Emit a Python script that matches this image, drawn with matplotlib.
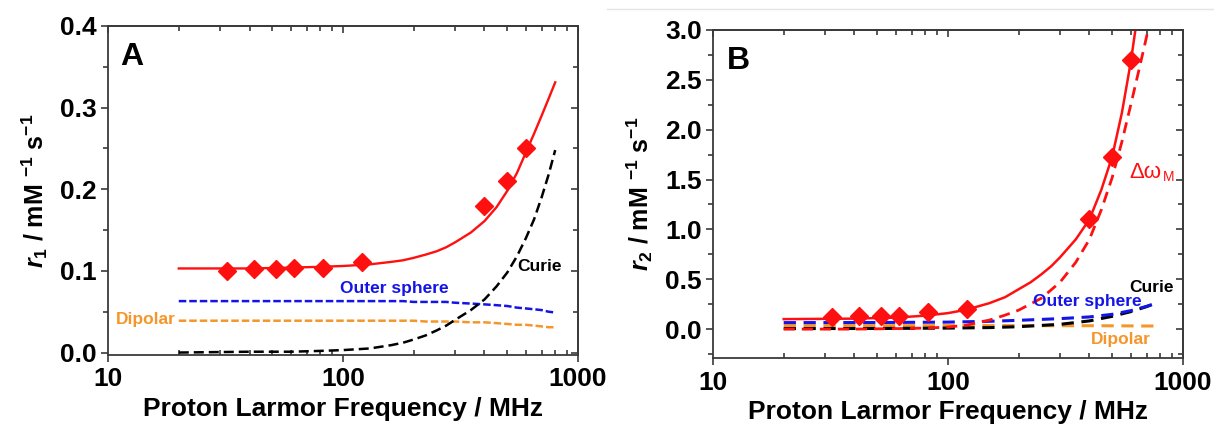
import numpy as np
import matplotlib
matplotlib.use('Agg')
import matplotlib.pyplot as plt
from matplotlib import ticker
from matplotlib.lines import Line2D

plt.rcParams['font.family'] = ['Liberation Sans', 'DejaVu Sans']
plt.rcParams['font.weight'] = 'bold'
plt.rcParams['axes.labelweight'] = 'bold'
plt.rcParams['mathtext.fontset'] = 'custom'
plt.rcParams['mathtext.rm'] = 'Liberation Sans:bold'
plt.rcParams['mathtext.it'] = 'Liberation Sans:italic:bold'
plt.rcParams['mathtext.bf'] = 'Liberation Sans:bold'

# measured relaxivities (MHz)
freq_exp = [32, 42, 52, 62, 82, 120, 400, 500, 600]
r1_exp = [0.100, 0.102, 0.102, 0.103, 0.104, 0.111, 0.179, 0.210, 0.250]
r2_exp = [0.12, 0.13, 0.13, 0.13, 0.17, 0.20, 1.10, 1.73, 2.70]

# r1 fit and its contributions
freq_r1 = [20, 40, 60, 80, 100, 130, 160, 180, 200, 225, 250, 275, 300, 350, 400,
           450, 500, 550, 600, 650, 700, 750, 800]
r1_fit = [0.103, 0.103, 0.104, 0.105, 0.106, 0.108, 0.111, 0.113, 0.116, 0.120,
          0.124, 0.129, 0.135, 0.147, 0.161, 0.178, 0.198, 0.220, 0.245, 0.268,
          0.290, 0.311, 0.331]
r1_curie = [0.000, 0.001, 0.001, 0.002, 0.003, 0.005, 0.009, 0.012, 0.016, 0.021,
            0.027, 0.033, 0.040, 0.052, 0.065, 0.081, 0.098, 0.118, 0.140, 0.163,
            0.190, 0.218, 0.248]
r1_outer = [0.063, 0.063, 0.063, 0.063, 0.063, 0.063, 0.063, 0.063, 0.062, 0.062,
            0.062, 0.062, 0.061, 0.060, 0.059, 0.058, 0.057, 0.055, 0.054, 0.053,
            0.052, 0.050, 0.049]
r1_dipolar = [0.039, 0.039, 0.039, 0.039, 0.039, 0.039, 0.039, 0.039, 0.039, 0.038,
              0.038, 0.038, 0.038, 0.037, 0.037, 0.036, 0.035, 0.034, 0.034, 0.033,
              0.032, 0.031, 0.031]

# r2 fit and its contributions
freq_r2_fit = [20, 40, 60, 80, 100, 120, 150, 175, 200, 225, 250, 275, 300, 350,
               400, 450, 500, 550, 600, 650]
r2_fit = [0.10, 0.105, 0.115, 0.135, 0.16, 0.195, 0.26, 0.32, 0.40, 0.47, 0.55,
          0.63, 0.72, 0.90, 1.10, 1.40, 1.73, 2.17, 2.68, 3.25]
freq_r2_shift = [20, 40, 60, 80, 100, 120, 150, 175, 200, 250, 300, 350, 400, 450,
                 500, 550, 600, 650, 700, 730]
r2_shift = [0.0, 0.0, 0.005, 0.01, 0.02, 0.04, 0.09, 0.14, 0.19, 0.31, 0.47, 0.67,
            0.90, 1.20, 1.52, 1.88, 2.25, 2.60, 2.93, 3.15]
freq_r2 = [20, 50, 100, 150, 200, 300, 400, 500, 600, 700, 760]
r2_outer = [0.065, 0.066, 0.070, 0.078, 0.088, 0.105, 0.122, 0.148, 0.185, 0.228, 0.255]
r2_curie = [0.005, 0.006, 0.010, 0.015, 0.024, 0.048, 0.082, 0.128, 0.175, 0.225, 0.258]
r2_dipolar = [0.035, 0.035, 0.035, 0.035, 0.035, 0.034, 0.034, 0.033, 0.032, 0.031, 0.031]

RED = '#ff1010'
BLUE = '#1414e6'
ORANGE = '#f5962a'
SPINE = '#3a3a3a'


def style_axis(ax, ylim, ymajor, yminor, ylabel):
    ax.set_xscale('log')
    ax.set_xlim(10, 1000)
    ax.set_ylim(*ylim)
    ax.yaxis.set_major_locator(ticker.MultipleLocator(ymajor))
    ax.yaxis.set_minor_locator(ticker.MultipleLocator(yminor))
    ax.yaxis.set_major_formatter(ticker.FormatStrFormatter('%.1f'))
    ax.xaxis.set_major_formatter(ticker.FuncFormatter(lambda v, p: '%g' % v))
    ax.xaxis.set_minor_formatter(ticker.NullFormatter())
    for s in ax.spines.values():
        s.set_color(SPINE)
        s.set_linewidth(1.3)
    ax.tick_params(which='major', direction='out', length=5, width=1.2,
                   color=SPINE, labelsize=19, pad=3)
    ax.tick_params(axis='x', which='minor', direction='in', length=3.5, width=1.2, color=SPINE)
    ax.tick_params(axis='y', which='minor', direction='out', length=3.5, width=1.2, color=SPINE)
    ax.tick_params(axis='x', which='major', pad=4)
    # mirrored ticks on top and right, pointing in
    top = ax.secondary_xaxis('top')
    top.tick_params(which='major', direction='in', length=5, width=1.2, color=SPINE, labeltop=False)
    top.tick_params(which='minor', direction='in', length=3.5, width=1.2, color=SPINE)
    top.xaxis.set_minor_formatter(ticker.NullFormatter())
    right = ax.secondary_yaxis('right')
    right.yaxis.set_major_locator(ticker.MultipleLocator(ymajor))
    right.yaxis.set_minor_locator(ticker.MultipleLocator(yminor))
    right.tick_params(which='major', direction='in', length=5, width=1.2, color=SPINE, labelright=False)
    right.tick_params(which='minor', direction='in', length=3.5, width=1.2, color=SPINE)
    for sec in (top, right):
        for s in sec.spines.values():
            s.set_color(SPINE)
            s.set_linewidth(1.3)
    ax.set_xlabel('Proton Larmor Frequency / MHz', fontsize=19, fontweight='bold', labelpad=4)
    ax.set_ylabel(ylabel, fontsize=18, fontweight='bold', labelpad=7)


fig = plt.figure(figsize=(12.14, 4.26), dpi=100)
axA = fig.add_axes([0.0890, 0.1667, 0.3871, 0.7723])
axB = fig.add_axes([0.5873, 0.1596, 0.3871, 0.7700])

# panel A
axA.plot(freq_r1, r1_dipolar, color=ORANGE, lw=1.8, dashes=(3, 1.2))
axA.plot(freq_r1, r1_outer, color=BLUE, lw=1.8, dashes=(3, 1.2))
axA.plot(freq_r1, r1_curie, color='k', lw=1.8, dashes=(4, 2))
axA.plot(freq_r1, r1_fit, color=RED, lw=1.7)
axA.plot(freq_exp, r1_exp, 'D', color=RED, mec=RED, ms=9, zorder=5)
style_axis(axA, (-0.003, 0.4), 0.1, 0.05, r'$r_1$ / mM $^{-1}$ s$^{-1}$')
axA.text(689, 0.1055, 'Curie', ha='center', va='center', fontsize=12.5, color='k')
axA.text(165, 0.079, 'Outer sphere', ha='center', va='center', fontsize=12.5, color=BLUE)
axA.text(19.4, 0.0405, 'Dipolar', ha='right', va='center', fontsize=12.5, color=ORANGE)
axA.text(0.026, 0.905, 'A', transform=axA.transAxes, ha='left', va='center',
         fontsize=23, fontweight='bold')

# panel B
axB.plot(freq_r2, r2_dipolar, color=ORANGE, lw=2.2, dashes=(4, 2.5))
axB.plot(freq_r2, r2_curie, color='k', lw=2.2, dashes=(4, 2.5))
axB.plot(freq_r2, r2_outer, color=BLUE, lw=2.2, dashes=(4, 2.5))
axB.plot(freq_r2_shift, r2_shift, color=RED, lw=2.0, dashes=(4, 2.5))
axB.plot(freq_r2_fit, r2_fit, color=RED, lw=1.8)
axB.plot(freq_exp, r2_exp, 'D', color=RED, mec=RED, ms=9, zorder=5)
style_axis(axB, (-0.29, 3.0), 0.5, 0.25, r'$r_2$ / mM $^{-1}$ s$^{-1}$')
axB.text(738, 0.42, 'Curie', ha='center', va='center', fontsize=12.5, color='k')
axB.text(390, 0.28, 'Outer sphere', ha='center', va='center', fontsize=12.5, color=BLUE)
axB.text(545, -0.10, 'Dipolar', ha='center', va='center', fontsize=12.5, color=ORANGE)
dw = axB.text(590, 1.52, 'Δω', ha='left', va='baseline', fontsize=16,
              fontweight='normal', color=RED)
axB.annotate('M', xy=(1.0, 0.0), xycoords=dw, xytext=(1, -1), textcoords='offset points',
             ha='left', va='bottom', fontsize=10, fontweight='normal', color=RED)
axB.text(0.030, 0.905, 'B', transform=axB.transAxes, ha='left', va='center',
         fontsize=23, fontweight='bold')

# thin grey rule above the right panel
fig.add_artist(Line2D([0.5, 1.0], [0.979, 0.979], color='#e4e4e4', lw=1.0))

fig.savefig('out.png', dpi=100)
